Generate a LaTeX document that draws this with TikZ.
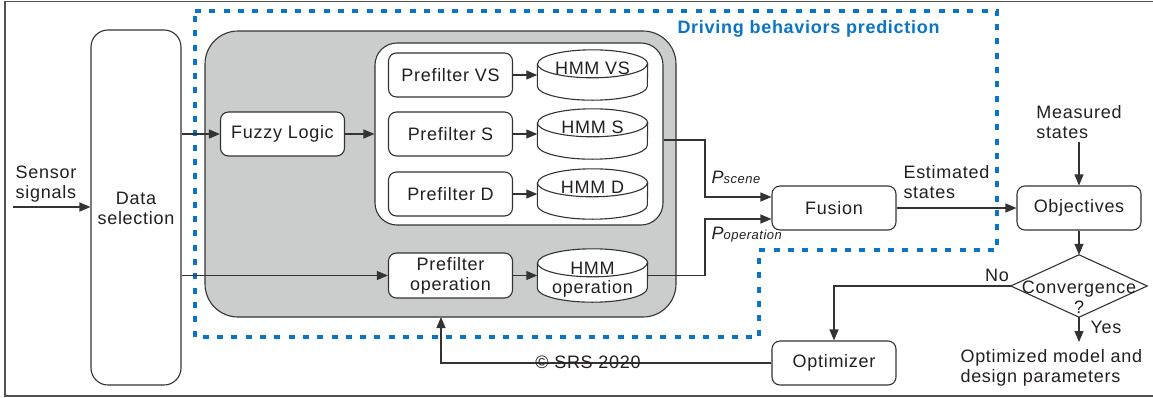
\documentclass[tikz,border=0pt]{standalone}
\usepackage{fontspec}
\setmainfont{Liberation Sans}[LetterSpace=4]
\usetikzlibrary{arrows.meta,calc}

\definecolor{ink}{HTML}{231F20}
\definecolor{edge}{HTML}{333333}
\definecolor{panel}{HTML}{CBCCCC}
\definecolor{dbp}{HTML}{0A74C6}

\pgfdeclarelayer{back}
\pgfdeclarelayer{mid}
\pgfsetlayers{back,mid,main}

% cylinder outline drawn around a named (invisible) node
\newcommand\cylout[1]{%
  \begin{pgfonlayer}{mid}
    \path[fill=white, draw=edge, line width=1.1pt]
      ([yshift=-14pt]#1.north west) -- ([yshift=14pt]#1.south west)
      arc[start angle=180, end angle=360, x radius=55pt, y radius=14pt]
      -- ([yshift=-14pt]#1.north east)
      arc[start angle=0, end angle=180, x radius=55pt, y radius=14pt] -- cycle;
    \draw[edge, line width=1.1pt] ([yshift=-14pt]#1.north west)
      arc[start angle=180, end angle=360, x radius=55pt, y radius=14pt];
  \end{pgfonlayer}}
% label lifted into the top face of a cylinder
\newcommand\cyltext[2]{\raisebox{#1}[\height][\depth]{#2}}

\begin{document}
\begin{tikzpicture}[x=1pt, y=1pt,
  font=\fontsize{18}{20}\selectfont, text=ink,
  box/.style={draw=edge, line width=1.1pt, rounded corners=8pt, fill=white,
    minimum width=124pt, minimum height=44pt, inner sep=0pt, align=center},
  cyl/.style={minimum width=110pt, minimum height=50pt, inner sep=0pt, align=center},
  arr/.style={draw=edge, line width=1.1pt, -{Triangle[length=11pt,width=9pt]}},
  ln/.style={draw=edge, line width=1.1pt}
]
\useasboundingbox (0,0) rectangle (1153,-397);

% frame
\draw[edge!85, line width=1.6pt] (1153,-1.5) -- (5,-1.5) -- (5,-396) -- (1153,-396);

% panels
\begin{pgfonlayer}{back}
  \node[draw=edge, line width=1.1pt, fill=panel, rounded corners=33pt,
        minimum width=471pt, minimum height=286pt] (gray) at (440.5,-174) {};
  \node[draw=edge, line width=1.1pt, fill=white, rounded corners=22pt,
        minimum width=288pt, minimum height=182pt] (inner) at (519,-134) {};
  \draw[dbp, line width=3.2pt, dash pattern=on 6pt off 8.3pt]
    (195,-11) -- (997,-11) -- (997,-250) -- (759,-250) -- (759,-337) -- (195,-337) -- cycle;
\end{pgfonlayer}
\node[anchor=west, text=dbp, font=\fontsize{18}{20}\selectfont\bfseries] (title) at (674,-29)
  {Driving behaviors prediction};

% data selection
\node[box, rounded corners=17pt, minimum width=90pt, minimum height=355pt] (ds) at (136,-207.5) {};
\node (dst) at (136,-208) [align=center] {Data\\selection};
\node[align=left] (sens) at (46,-184) {Sensor\\signals};
\coordinate (sin) at (13,-207);
\draw[arr] (sin) -- (sin -| ds.west);

% prefilters and HMMs
\node[box] (fuzzy) at (282.5,-134) {Fuzzy Logic};
\node[box] (pvs) at (450.5,-75) {Prefilter VS};
\node[box] (ps)  at (450.5,-134) {Prefilter S};
\node[box] (pd)  at (450.5,-194) {Prefilter D};
\node[box, minimum height=45pt] (pop) at (450.5,-275.5) {Prefilter\\operation};

\node[cyl] (hvs) at (592.5,-75) {\cyltext{7pt}{HMM VS}};
\node[cyl] (hs)  at (592.5,-134) {\cyltext{7pt}{HMM S}};
\node[cyl] (hd)  at (592.5,-194) {\cyltext{7pt}{HMM D}};
\node[cyl, minimum height=53pt] (hop) at (592.5,-275.5)
  {\cyltext{-4pt}{\begin{tabular}{@{}c@{}}HMM\\[-1pt]operation\end{tabular}}};
\cylout{hvs}\cylout{hs}\cylout{hd}\cylout{hop}

\draw[arr] (ds.east |- fuzzy.west) -- (fuzzy.west);
\draw[arr] (ds.east |- pop.west) -- (pop.west);
\draw[arr] (fuzzy.east) -- (fuzzy.east -| inner.west);
\draw[arr] (pvs.east) -- (hvs.west);
\draw[arr] (ps.east) -- (hs.west);
\draw[arr] (pd.east) -- (hd.west);
\draw[arr] (pop.east) -- (hop.west);

% fusion
\node[box] (fusion) at (834,-208) {Fusion};
\coordinate (bend) at (705,0);
\draw[arr] ([yshift=-6pt]inner.east) -- ([yshift=-6pt]inner.east -| bend)
  |- ([yshift=11pt]fusion.west);
\draw[arr] (hop.east) -- (hop.east -| bend) |- ([yshift=-11pt]fusion.west);
\node[anchor=west] (lps) at (708,-177) {\itshape P{\fontsize{13}{13}\selectfont scene}};
\node[anchor=west] (lpo) at (708,-235) {\itshape P{\fontsize{13}{13}\selectfont operation}};

% objectives and optimization loop
\node[box] (obj) at (1079,-208) {Objectives};
\node[align=left, anchor=west] (est) at (900,-182) {Estimated\\states};
\draw[arr] (fusion.east) -- (obj.west);
\node[align=left] (meas) at (1079,-122) {Measured\\states};
\draw[arr] (meas.south) -- (obj.north);

\node[minimum width=136pt, minimum height=62pt, inner sep=0pt] (conv) at (1079,-286) {};
\draw[ln] (conv.north) -- (conv.east) -- (conv.south) -- (conv.west) -- cycle;
\node[align=center] (convt) at (1079,-297) {Convergence\\?};
\draw[arr] (obj.south) -- (conv.north);

\node[box] (opt) at (834,-363) {Optimizer};
\draw[arr] (conv.west) -| (opt.north);
\node (no) at (997,-275) {No};

\coordinate (yesend) at (1079,-342);
\draw[arr] (conv.south) -- (yesend);
\node[anchor=west] (yes) at (1087,-327) {Yes};
\node[align=left, anchor=west] (res) at (957,-368) {Optimized model and\\design parameters};

\coordinate (fb) at (441,-317);
\draw[arr] (opt.west) -| (fb);
\node (copy) at (588,-362) {\textcopyright{} SRS 2020};
\end{tikzpicture}
\end{document}
